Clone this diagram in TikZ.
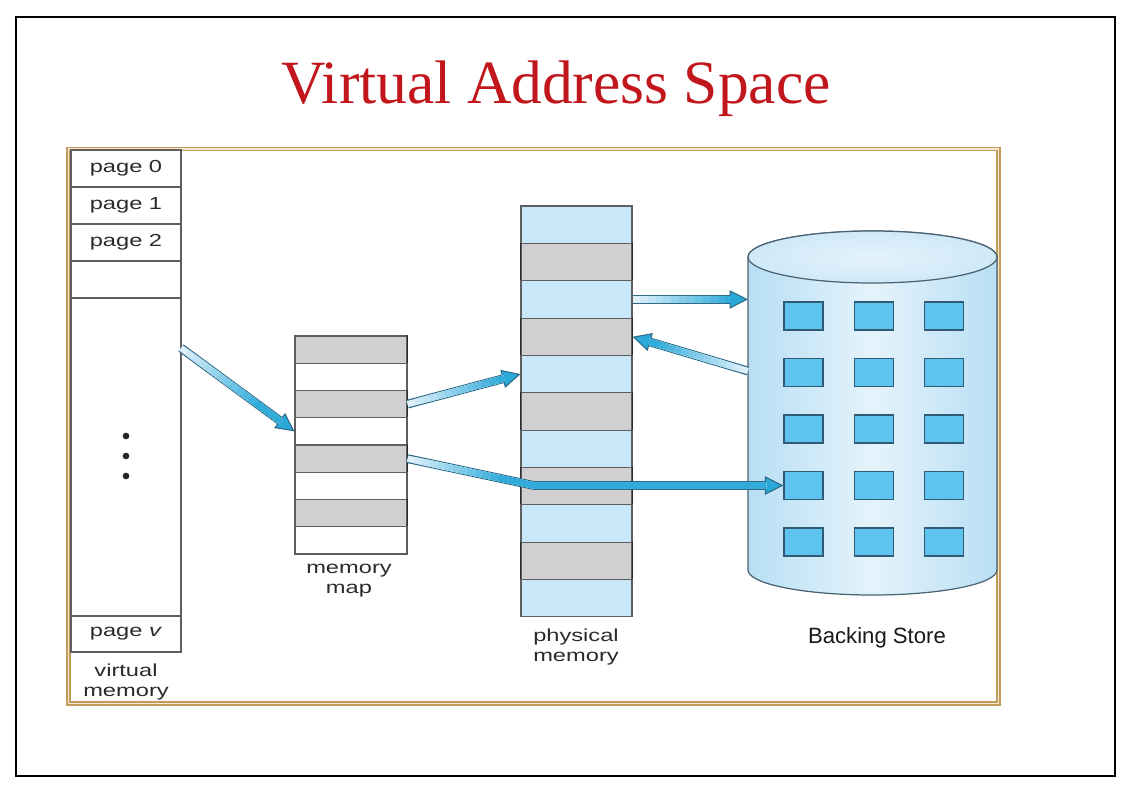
\documentclass[tikz,border=0pt]{standalone}
\usepackage{fontspec}
\setmainfont{Liberation Serif}
\newfontfamily\labelfont[FakeStretch=1.36]{Liberation Sans}
\newfontfamily\storefont{Liberation Sans}
\usetikzlibrary{arrows.meta}

\definecolor{titlered}{HTML}{C2161D}
\definecolor{framebrown}{HTML}{C49A5A}
\definecolor{framelight}{HTML}{F5E9D2}
\definecolor{rowedge}{HTML}{5E5E5E}
\definecolor{rowdark}{HTML}{2A2A2A}
\definecolor{rowgray}{HTML}{D0D0D2}
\definecolor{rowblue}{HTML}{C8E8F9}
\definecolor{cylside}{HTML}{B8DFF4}
\definecolor{cylmid}{HTML}{E4F3FB}
\definecolor{cyltop}{HTML}{CFE9F8}
\definecolor{cyledge}{HTML}{4A6272}
\definecolor{blockblue}{HTML}{5EC3EE}
\definecolor{blockedge}{HTML}{2F5B74}
\definecolor{arrowedge}{HTML}{2E6A86}
\definecolor{arrowpale}{HTML}{DDF0F9}
\definecolor{arrowhead}{HTML}{2AA8D8}
\definecolor{labelgray}{HTML}{2B2B2B}

\tikzset{
	vrow/.style={draw=rowedge, line width=0.6pt, minimum width=2.2cm, minimum height=0.74cm, inner sep=0pt,
		font=\labelfont\fontsize{9.9}{11.5}\selectfont, text=labelgray},
	mmrow/.style={draw=rowedge, line width=0.6pt, minimum width=2.24cm, minimum height=0.545cm, inner sep=0pt},
	pmrow/.style={draw=rowedge, line width=0.6pt, minimum width=2.22cm, minimum height=0.747cm, inner sep=0pt},
	darkedge/.style={draw=rowdark, line width=1.1pt},
	block/.style={draw=blockedge, fill=blockblue, line width=0.7pt, minimum width=0.78cm, minimum height=0.56cm, inner sep=0pt},
	caption/.style={font=\labelfont\fontsize{9.9}{11.5}\selectfont, text=labelgray, align=center},
	shadeband/.style={postaction={draw=arrowhead!#1!arrowpale, shorten <=0.55pt*#1}},
	bigarrow/.style={line join=round,
		preaction={draw=arrowedge, line width=5pt, shorten >=0pt,
			-{Triangle[length=10.5pt, width=10.5pt, fill=arrowhead, line width=0.6pt]}},
		draw=arrowpale, line width=3.6pt, shorten >=9.8pt,
		shadeband/.list={8,16,...,96}}
}

\begin{document}
\begin{tikzpicture}[x=0.02cm, y=-0.02cm]

	% Page
	\useasboundingbox (0,0) rectangle (1132,785);
	\fill[white] (0,0) rectangle (1132,785);
	\draw[black, line width=0.8pt] (16,17) rectangle (1115,776);
	\node[font=\fontsize{35}{40}\selectfont, text=titlered, anchor=base] (title) at (556,103) {Virtual Address Space};
	\draw[draw=framebrown, double=framelight, double distance=0.8pt, line width=0.8pt] (68.5,149) rectangle (998.5,703.5);

	% Virtual memory
	\node[vrow] (vp0) at (126,168.5) {page 0};
	\node[vrow] (vp1) at (126,205.5) {page 1};
	\node[vrow] (vp2) at (126,242.5) {page 2};
	\node[vrow] (vp3) at (126,279.5) {};
	\node[vrow, minimum height=6.36cm] (vbig) at (126,457) {};
	\node[vrow, minimum height=0.72cm] (vpv) at (126,634) {page \textit{v}};
	\foreach \y in {436,456,476}
		\fill[black!85] (126,\y) circle[radius=1.9pt];
	\node[caption] (vlabel) at (126,682) {virtual\\memory};

	% Memory map
	\foreach \i in {0,...,7}{
		\ifodd\i
			\node[mmrow, fill=white] (mm\i) at (351,349.625+27.25*\i) {};
		\else
			\node[mmrow, fill=rowgray] (mm\i) at (351,349.625+27.25*\i) {};
			\draw[darkedge] (mm\i.north east) -- (mm\i.south east);
		\fi
	}
	\node[caption] (mmlabel) at (349,581) {memory\\map};

	% Physical memory
	\foreach \i in {0,...,10}{
		\ifodd\i
			\node[pmrow, fill=rowgray] (pm\i) at (576.5,224.68+37.36*\i) {};
			\draw[darkedge] (pm\i.north east) -- (pm\i.south east);
			\draw[darkedge] (pm\i.north west) -- (pm\i.south west);
		\else
			\node[pmrow, fill=rowblue] (pm\i) at (576.5,224.68+37.36*\i) {};
		\fi
	}
	\node[caption] (pmlabel) at (576,647) {physical\\memory};

	% Backing store
	\draw[cyledge, line width=0.7pt, left color=cylside, right color=cylside, middle color=cylmid]
		(748,257) -- (748,570) arc[start angle=180, end angle=360, x radius=2.49cm, y radius=0.5cm]
		-- (997,257) arc[start angle=0, end angle=180, x radius=2.49cm, y radius=0.52cm] -- cycle;
	\draw[cyledge, line width=0.7pt, inner color=cylmid, outer color=cyltop] (872.5,257) ellipse[x radius=2.49cm, y radius=0.52cm];
	\foreach \r in {0,...,4}
		\foreach \c in {0,...,2}
			\node[block] (bs\r\c) at (803.5+70.25*\c,316+56.5*\r) {};
	\node[font=\storefont\fontsize{12.6}{15}\selectfont, text=black!90] (bslabel) at (877,638) {Backing Store};

	% Arrows
	\coordinate (vout) at (181,348);
	\coordinate (bsin) at (748,300);
	\coordinate (bsout) at (748,371);
	\coordinate (bend) at (534,485.5);
	\draw[bigarrow] (vout) -- (mm3.west);
	\draw[bigarrow] (mm2.east) -- (pm4.west);
	\draw[bigarrow] (pm2.east) -- (pm2.east -| bsin);
	\draw[bigarrow] (bsout) -- (pm3.east);
	\draw[bigarrow] (mm4.east) -- (bend) -- (bs30.west);

\end{tikzpicture}
\end{document}
